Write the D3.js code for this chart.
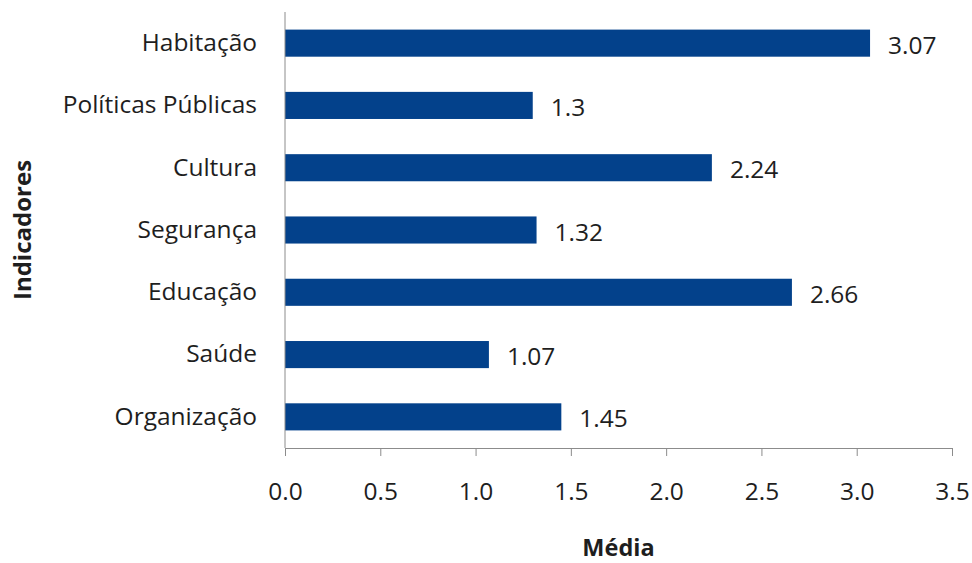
<!DOCTYPE html>
<html>
<head>
<meta charset="utf-8">
<script src="https://cdn.jsdelivr.net/npm/d3@7"></script>
<style>
  html, body { margin: 0; padding: 0; background: #fff; }
  svg text { font-family: "Open Sans", "Noto Sans", sans-serif; fill: #1e1e1e; }
</style>
</head>
<body>
<svg id="chart" width="972" height="563"></svg>
<script>
// Indicator averages (top to bottom)
const categories = ["Habitação", "Políticas Públicas", "Cultura", "Segurança", "Educação", "Saúde", "Organização"];
const values = [3.07, 1.3, 2.24, 1.32, 2.66, 1.07, 1.45];
const valueLabels = ["3.07", "1.3", "2.24", "1.32", "2.66", "1.07", "1.45"];
const xTicks = [0, 0.5, 1, 1.5, 2, 2.5, 3, 3.5];

const svg = d3.select("#chart");
const margin = { left: 285, top: 12 };
const axisY = 448;
const fontSize = 24.5;

const x = d3.scaleLinear().domain([0, 3.5]).range([margin.left, 952]);
const y = d3.scaleBand().domain(categories).range([margin.top, axisY]).paddingInner(0.565).paddingOuter(0.2825);

const axisColor = "#8c8c8c";

// bars
svg.append("g").selectAll("rect")
  .data(categories)
  .join("rect")
  .attr("x", x(0))
  .attr("y", d => y(d))
  .attr("width", (d, i) => x(values[i]) - x(0))
  .attr("height", y.bandwidth())
  .attr("fill", "#03418b");

// value labels
svg.append("g").selectAll("text")
  .data(categories)
  .join("text")
  .attr("x", (d, i) => x(values[i]) + 18)
  .attr("y", d => y(d) + y.bandwidth() / 2 + 1)
  .attr("dominant-baseline", "central")
  .attr("font-size", fontSize)
  .text((d, i) => valueLabels[i]);

// x axis
const xAxis = svg.append("g")
  .attr("transform", `translate(0,${axisY})`)
  .call(d3.axisBottom(x).tickValues(xTicks).tickFormat(d3.format(".1f")).tickSize(8).tickSizeOuter(0).tickPadding(27));
xAxis.select(".domain").attr("stroke", axisColor);
xAxis.selectAll(".tick line").attr("stroke", axisColor);
xAxis.selectAll(".tick text").attr("font-size", fontSize).attr("fill", "#1e1e1e").attr("font-family", "'Open Sans', sans-serif");

// y axis
const yAxis = svg.append("g")
  .attr("transform", `translate(${margin.left},0)`)
  .call(d3.axisLeft(y).tickSize(0).tickPadding(28));
yAxis.select(".domain").attr("stroke", axisColor).attr("d", `M0,${margin.top}V${axisY}`);
yAxis.selectAll(".tick text").attr("font-size", fontSize).attr("fill", "#1e1e1e").attr("font-family", "'Open Sans', sans-serif");

// axis titles
svg.append("text")
  .attr("x", (x(0) + x(3.5)) / 2)
  .attr("y", 556)
  .attr("text-anchor", "middle")
  .attr("font-size", 23.5)
  .attr("font-weight", "bold")
  .text("Média");

svg.append("text")
  .attr("transform", `translate(31,${(margin.top + axisY) / 2}) rotate(-90)`)
  .attr("text-anchor", "middle")
  .attr("font-size", 24)
  .attr("font-weight", "bold")
  .text("Indicadores");
</script>
</body>
</html>
